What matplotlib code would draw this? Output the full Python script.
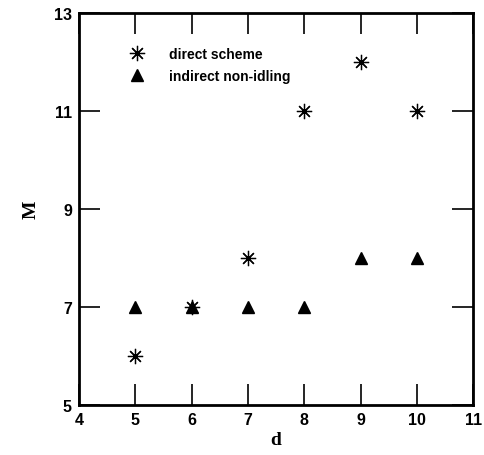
import matplotlib
matplotlib.use("Agg")
import matplotlib.pyplot as plt

# values
d_direct = [5, 6, 7, 8, 9, 10]
m_direct = [6, 7, 8, 11, 12, 11]
d_indirect = [5, 6, 7, 8, 9, 10]
m_indirect = [7, 7, 7, 7, 8, 8]
x_ticks = [4, 5, 6, 7, 8, 9, 10, 11]
y_ticks = [5, 7, 9, 11, 13]

fig = plt.figure(figsize=(4.84, 4.56), dpi=100)
ax = fig.add_axes([0.163, 0.110, 0.815, 0.859])

ax.plot(d_direct, m_direct, linestyle='none', marker=(8, 2, 0), markersize=11,
        color='black', markeredgewidth=0.9, label='direct scheme')
ax.plot(d_indirect, m_indirect, linestyle='none', marker='^', markersize=9,
        color='black', label='indirect non-idling')

ax.set_xlim(4, 11)
ax.set_ylim(5, 13)
ax.set_xticks(x_ticks)
ax.set_yticks(y_ticks)
ax.tick_params(direction='in', length=15, width=1.2, top=True, right=True,
               labelsize=11.5, pad=5)
for lab in ax.get_xticklabels() + ax.get_yticklabels():
    lab.set_fontweight('bold')
    lab.set_family('Liberation Sans')
for sp in ax.spines.values():
    sp.set_linewidth(2)

ax.set_xlabel('d', family='Liberation Serif', fontsize=14, fontweight='bold', labelpad=3)
ax.set_ylabel('M', family='Liberation Serif', fontsize=14, fontweight='bold', labelpad=10)

leg = ax.legend(loc='upper left', bbox_to_anchor=(0.08, 0.945), frameon=False,
                prop={'family': 'Liberation Sans', 'size': 10, 'weight': 'bold'},
                handletextpad=1.3, labelspacing=0.55, numpoints=1)

fig.savefig('out.png', dpi=100)
